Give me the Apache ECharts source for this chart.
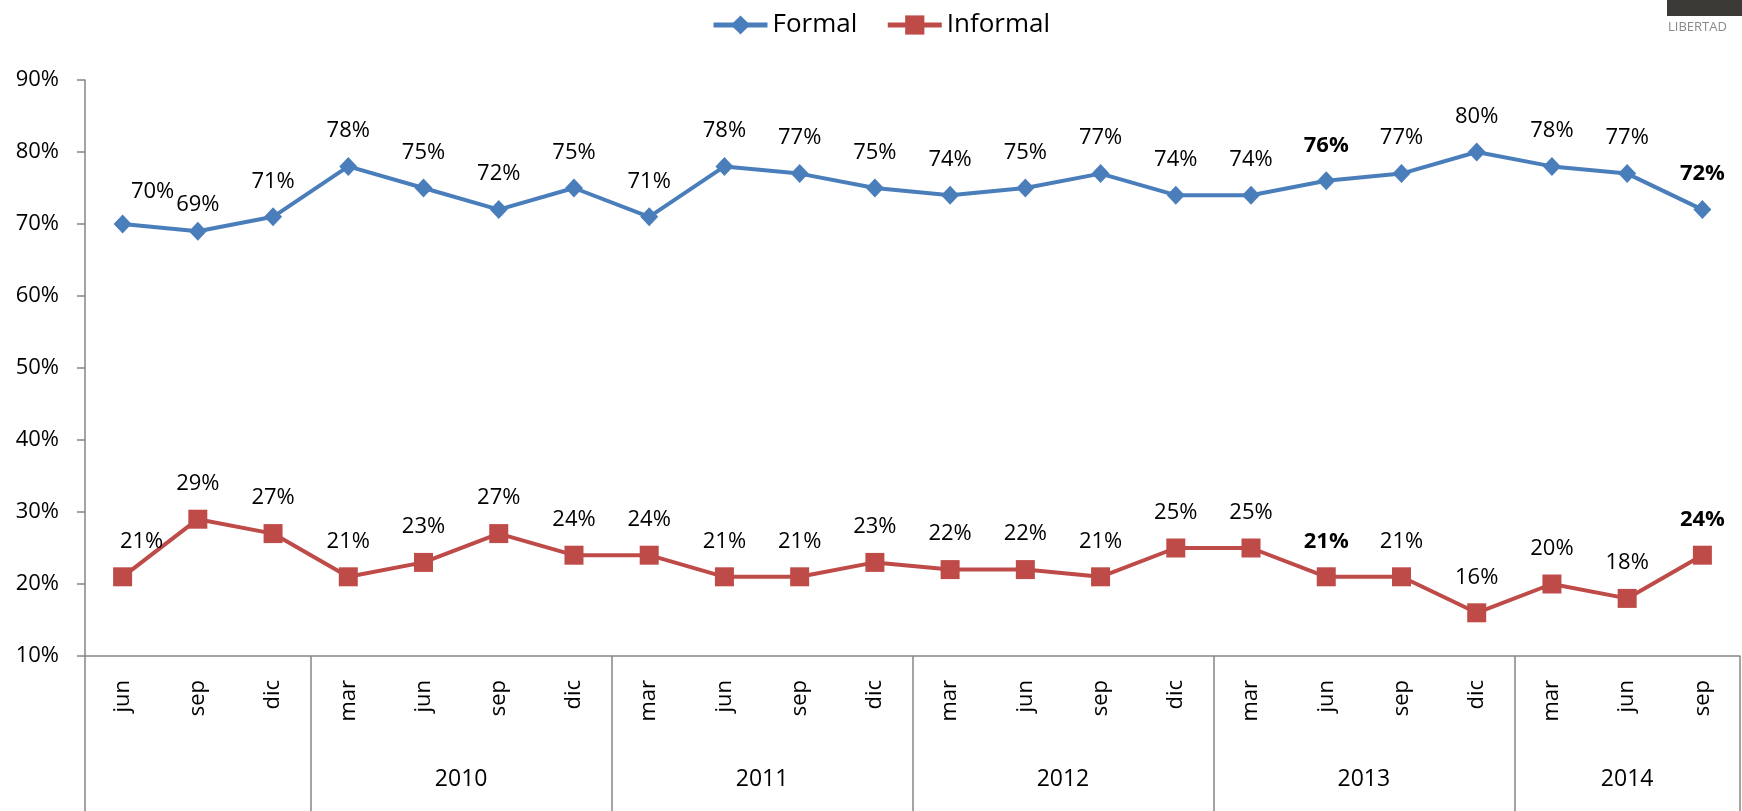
<!DOCTYPE html>
<html>
<head>
<meta charset="utf-8">
<script src="https://cdn.jsdelivr.net/npm/echarts@6/dist/echarts.min.js"></script>
<style>
  html, body { margin: 0; padding: 0; background: #fff; }
  #chart { width: 1742px; height: 811px; }
</style>
</head>
<body>
<div id="chart"></div>
<script>
// quarter labels, one per survey point
const periods = ['jun', 'sep', 'dic', 'mar', 'jun', 'sep', 'dic', 'mar', 'jun', 'sep', 'dic',
                 'mar', 'jun', 'sep', 'dic', 'mar', 'jun', 'sep', 'dic', 'mar', 'jun', 'sep'];
const formal   = [70, 69, 71, 78, 75, 72, 75, 71, 78, 77, 75, 74, 75, 77, 74, 74, 76, 77, 80, 78, 77, 72];
const informal = [21, 29, 27, 21, 23, 27, 24, 24, 21, 21, 23, 22, 22, 21, 25, 25, 21, 21, 16, 20, 18, 24];
// year groups under the quarters (first group has no label)
const years     = ['', '2010', '2011', '2012', '2013', '2014'];
const yearSpans = [3, 4, 4, 4, 4, 3];
const boldAt = [16, 21];
const yTicks = [10, 20, 30, 40, 50, 60, 70, 80, 90];

const FONT = '"Open Sans", "Noto Sans", sans-serif';
const AXIS_GREY = '#868686';

// hand-placed labels in the original
const labelNudge = {
  Formal:   { 0: [30, 3], 1: [0, 9] },
  Informal: { 0: [19, 0] }
};

const bounds = [0];
yearSpans.forEach(s => bounds.push(bounds[bounds.length - 1] + s));
const mids = yearSpans.map((s, i) => bounds[i] + s / 2);

function points(name, values) {
  return values.map((v, i) => {
    const label = {};
    if (boldAt.includes(i)) label.fontWeight = 'bold';
    const n = labelNudge[name][i];
    if (n) label.offset = n;
    return { value: v, label };
  });
}

const chart = echarts.init(document.getElementById('chart'));
chart.setOption({
  animation: false,
  textStyle: { fontFamily: FONT },
  legend: {
    left: 706,
    top: 7,
    itemWidth: 54,
    itemHeight: 24,
    itemGap: 28,
    lineStyle: { width: 5 },
    textStyle: { fontSize: 26, color: '#000', fontFamily: FONT },
    data: ['Formal', 'Informal']
  },
  grid: {
    left: 85, right: 2, top: 80, bottom: 155,
    outerBoundsMode: 'none'
  },
  xAxis: [
    {
      type: 'category',
      data: periods,
      boundaryGap: true,
      axisLine: { lineStyle: { color: AXIS_GREY, width: 1.5 } },
      axisTick: { interval: 0, length: 83, lineStyle: { color: AXIS_GREY, width: 1.5 } },
      axisLabel: {
        interval: 0, rotate: 90, margin: 24,
        fontSize: 22, color: '#000', fontFamily: FONT
      }
    },
    {
      type: 'value',
      position: 'bottom',
      min: 0,
      max: bounds[bounds.length - 1],
      axisLine: { show: false },
      splitLine: { show: false },
      axisTick: {
        show: true, customValues: bounds, length: 160,
        lineStyle: { color: AXIS_GREY, width: 1.5 }
      },
      axisLabel: {
        customValues: mids, margin: 112,
        fontSize: 23, color: '#000', fontFamily: FONT,
        showMinLabel: true, showMaxLabel: true,
        formatter: v => {
          const i = mids.findIndex(m => Math.abs(m - v) < 1e-6);
          return i >= 0 ? years[i] : '';
        }
      }
    }
  ],
  yAxis: {
    type: 'value',
    min: yTicks[0],
    max: yTicks[yTicks.length - 1],
    interval: 10,
    axisLine: { show: true, lineStyle: { color: AXIS_GREY, width: 1.5 } },
    axisTick: { show: true, length: 8, lineStyle: { color: AXIS_GREY, width: 1.5 } },
    splitLine: { show: false },
    axisLabel: { formatter: '{value}%', margin: 26, fontSize: 22, color: '#000', fontFamily: FONT }
  },
  series: [
    {
      name: 'Formal',
      type: 'line',
      data: points('Formal', formal),
      symbol: 'diamond',
      symbolSize: [18, 19],
      lineStyle: { width: 4, color: '#4a7ebb' },
      itemStyle: { color: '#4a7ebb' },
      label: {
        show: true, position: 'top', distance: 13, formatter: '{c}%',
        fontSize: 22, lineHeight: 26, color: '#000', fontFamily: FONT
      }
    },
    {
      name: 'Informal',
      type: 'line',
      data: points('Informal', informal),
      symbol: 'rect',
      symbolSize: 19,
      lineStyle: { width: 4, color: '#be4b48' },
      itemStyle: { color: '#be4b48' },
      label: {
        show: true, position: 'top', distance: 13, formatter: '{c}%',
        fontSize: 22, lineHeight: 26, color: '#000', fontFamily: FONT
      }
    }
  ],
  graphic: [
    { type: 'rect', left: 1667, top: 0, shape: { width: 75, height: 16 }, style: { fill: '#3b3a36' } },
    { type: 'text', left: 1668, top: 21, style: { text: 'LIBERTAD', fontSize: 13, fill: '#8a8a8a', fontFamily: FONT } }
  ]
});
window.addEventListener('resize', () => chart.resize());
</script>
</body>
</html>
